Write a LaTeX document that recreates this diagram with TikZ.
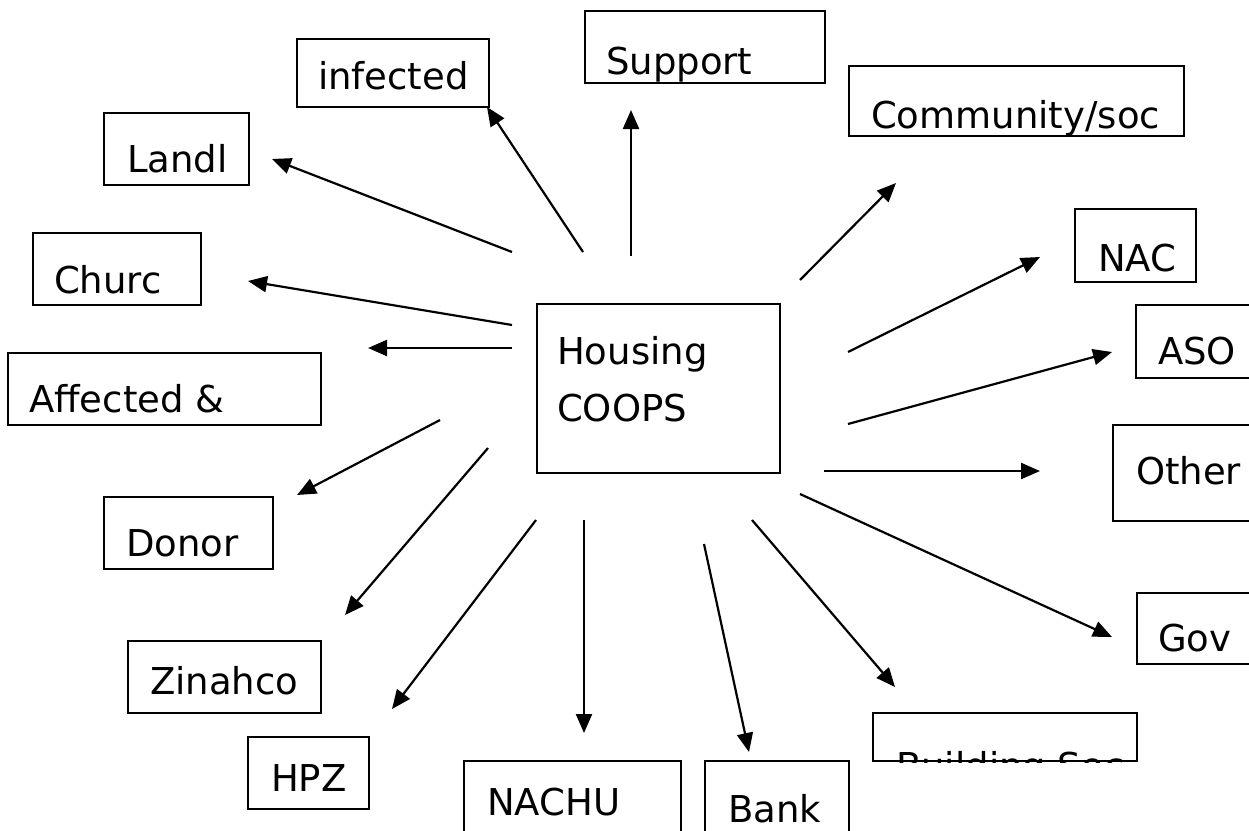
\documentclass[tikz,border=0pt]{standalone}
\usepackage{fontspec}
\setmainfont{DejaVu Sans}
\usepackage{tikz}
\usetikzlibrary{arrows.meta}

\tikzset{
  box/.style={draw, line width=2pt, inner sep=0pt, anchor=north west},
  lbl/.style={inner sep=0pt, anchor=base west, font=\fontsize{37}{44}\selectfont},
}

\begin{document}
\begin{tikzpicture}[x=1pt,y=-1pt,line width=2.2pt,>={Triangle[length=19pt,width=16pt]}]
\clip (0,0) rectangle (1249,830);
\fill[white] (0,0) rectangle (1249,830);

% boxes
\node[box,minimum width=243pt,minimum height=169pt] (hc) at (536,303) {};
\node[box,minimum width=240pt,minimum height=72pt] (sup) at (584,10) {};
\node[box,minimum width=192pt,minimum height=68pt] (inf) at (296,38) {};
\node[box,minimum width=335pt,minimum height=70pt] (com) at (848,65) {};
\node[box,minimum width=145pt,minimum height=72pt] (lan) at (103,112) {};
\node[box,minimum width=168pt,minimum height=72pt] (chu) at (32,232) {};
\node[box,minimum width=313pt,minimum height=72pt] (aff) at (7,352) {};
\node[box,minimum width=169pt,minimum height=72pt] (don) at (103,496) {};
\node[box,minimum width=193pt,minimum height=72pt] (zin) at (127,640) {};
\node[box,minimum width=121pt,minimum height=72pt] (hpz) at (247,736) {};
\node[box,minimum width=217pt,minimum height=90pt] (nachu) at (463,760) {};
\node[box,minimum width=144pt,minimum height=90pt] (bank) at (704,760) {};
\node[box,minimum width=264pt,minimum height=48pt] (bld) at (872,712) {};
\node[box,minimum width=130pt,minimum height=71pt] (gov) at (1136,592) {};
\node[box,minimum width=150pt,minimum height=96pt] (oth) at (1112,424) {};
\node[box,minimum width=130pt,minimum height=73pt] (aso) at (1135,304) {};
\node[box,minimum width=121pt,minimum height=73pt] (nac) at (1074,208) {};

% labels
\node[lbl] (hcT) at (556,364) {Housing};
\node[lbl] (hcT2) at (556,421) {COOPS};
\node[lbl] (infT) at (317,89) {infected};
\node[lbl] (lanT) at (126,172) {Landl};
\node[lbl] (chuT) at (53,293) {Churc};
\node[lbl] (affT) at (28,412) {Affected \&};
\node[lbl] (donT) at (125,556) {Donor};
\node[lbl] (zinT) at (149,694) {Zinahco};
\node[lbl] (hpzT) at (270,791) {HPZ};
\node[lbl] (nachuT) at (486,815) {NACHU};
\node[lbl] (bankT) at (727,822) {Bank};
\node[lbl] (govT) at (1157,651) {Gov};
\node[lbl] (othT) at (1135,484) {Other};
\node[lbl] (asoT) at (1157,364) {ASO};
\node[lbl] (nacT) at (1097,271) {NAC};
\begin{scope}
\clip (sup.north west) rectangle (sup.south east);
\node[lbl] (supT) at (605,74) {Support};
\end{scope}
\begin{scope}
\clip (com.north west) rectangle (com.south east);
\node[lbl] (comT) at (870,128) {Community/soc};
\end{scope}
\begin{scope}
\clip (bld.north west) rectangle (bld.south east);
\node[lbl] (bldT) at (895,779) {Building Soc};
\end{scope}

% arrow ends
\coordinate (sup0) at (631,256);  \coordinate (sup1) at (631,110);
\coordinate (inf0) at (583,252);  \coordinate (inf1) at (487,107);
\coordinate (lan0) at (512,252);  \coordinate (lan1) at (272,159);
\coordinate (chu0) at (512,325);  \coordinate (chu1) at (248,281);
\coordinate (aff0) at (512,348);  \coordinate (aff1) at (368,348);
\coordinate (don0) at (440,420);  \coordinate (don1) at (297,495);
\coordinate (zin0) at (488,448);  \coordinate (zin1) at (345,615);
\coordinate (hpz0) at (536,520);  \coordinate (hpz1) at (392,709);
\coordinate (nachu0) at (584,520); \coordinate (nachu1) at (584,733);
\coordinate (bank0) at (704,544); \coordinate (bank1) at (749,752);
\coordinate (bld0) at (752,520);  \coordinate (bld1) at (895,687);
\coordinate (gov0) at (800,494);  \coordinate (gov1) at (1112,637);
\coordinate (oth0) at (824,471);  \coordinate (oth1) at (1040,471);
\coordinate (aso0) at (848,424);  \coordinate (aso1) at (1112,352);
\coordinate (nac0) at (848,352);  \coordinate (nac1) at (1040,257);
\coordinate (com0) at (800,280);  \coordinate (com1) at (896,183);

% arrows
\draw[->] (sup0) -- (sup1);
\draw[->] (inf0) -- (inf1);
\draw[->] (lan0) -- (lan1);
\draw[->] (chu0) -- (chu1);
\draw[->] (aff0) -- (aff1);
\draw[->] (don0) -- (don1);
\draw[->] (zin0) -- (zin1);
\draw[->] (hpz0) -- (hpz1);
\draw[->] (nachu0) -- (nachu1);
\draw[->] (bank0) -- (bank1);
\draw[->] (bld0) -- (bld1);
\draw[->] (gov0) -- (gov1);
\draw[->] (oth0) -- (oth1);
\draw[->] (aso0) -- (aso1);
\draw[->] (nac0) -- (nac1);
\draw[->] (com0) -- (com1);
\end{tikzpicture}
\end{document}
